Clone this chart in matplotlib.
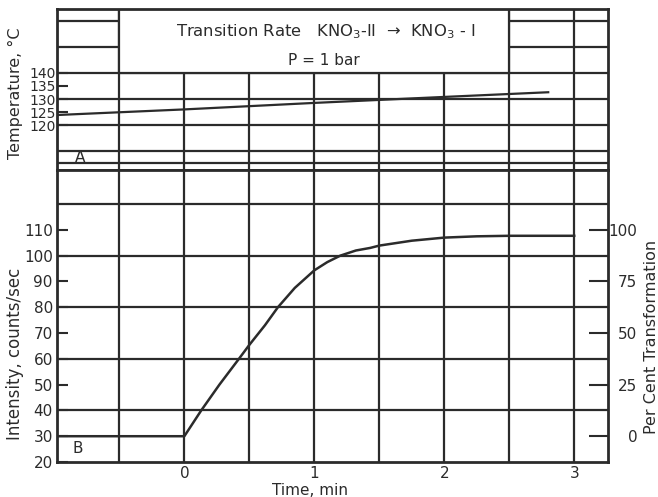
import numpy as np
import matplotlib.pyplot as plt
from matplotlib.patches import Rectangle

# panel A: sample temperature during the run
temp_time = [-1.0, 0.0, 1.0, 2.0, 2.8]
temp_c = [123.8, 126.0, 128.5, 130.8, 132.6]

# panel B: diffracted intensity vs time
int_time = [-1.0, 0.0, 0.13, 0.27, 0.42, 0.5, 0.62, 0.72, 0.85, 1.0, 1.1,
            1.2, 1.32, 1.43, 1.5, 1.75, 2.0, 2.25, 2.5, 3.0]
intensity = [30, 30, 40, 50, 60, 65.4, 73, 80, 87.5, 94.3, 97.5,
             100, 102, 103, 103.9, 105.8, 107, 107.5, 107.7, 107.7]

time_ticks = [0, 1, 2, 3]
temp_ticks = [120, 125, 130, 135, 140]
int_ticks = list(range(20, 120, 10))
pct_ticks = [0, 25, 50, 75, 100]
pct_zero, pct_full = 30, 110   # intensity at 0 % and 100 % transformation

ink = '#2b2b2b'
lw = 1.6

fig = plt.figure(figsize=(6.58, 4.97), dpi=100)
ax_t = fig.add_axes([0.0866, 0.6579, 0.8374, 0.3240])
ax_i = fig.add_axes([0.0866, 0.0704, 0.8374, 0.5875])

xlim = (-0.98, 3.26)
for ax in (ax_t, ax_i):
    ax.set_xlim(*xlim)
    for s in ax.spines.values():
        s.set_linewidth(2)
        s.set_color(ink)
    for x in np.arange(-0.5, 3.01, 0.5):
        ax.axvline(x, color=ink, lw=lw, zorder=0.5)

# top panel
ax_t.set_ylim(102.7, 164.6)
for y in [105.4, 110, 120, 130, 140, 150, 160]:
    ax_t.axhline(y, color=ink, lw=lw, zorder=0.5)
ax_t.add_patch(Rectangle((-0.5, 140), 3.0, 30, facecolor='white',
                         edgecolor=ink, lw=lw, zorder=1))
ax_t.plot(temp_time, temp_c, color=ink, lw=1.6, zorder=2)
ax_t.set_yticks(temp_ticks)
ax_t.tick_params(axis='y', direction='in', length=8, width=1.5, pad=1,
                 labelsize=10, colors=ink)
ax_t.tick_params(axis='x', length=0, labelbottom=False)
ax_t.text(1.09, 156, 'Transition Rate   KNO$_3$-II  →  KNO$_3$ - I',
          ha='center', va='center', fontsize=11.8, color=ink, zorder=3)
ax_t.text(1.07, 144.8, 'P = 1 bar', ha='center', va='center',
          fontsize=11, color=ink, zorder=3)
ax_t.text(-0.8, 107.5, 'A', ha='center', va='center', fontsize=11, color=ink)
ax_t.set_ylabel('Temperature, °C', fontsize=11.5, color=ink, va='center')
ax_t.yaxis.set_label_coords(-0.076, 0.478)

# bottom panel
ylo, yhi = 20, 133.2
ax_i.set_ylim(ylo, yhi)
for y in [40, 60, 80, 100, 120]:
    ax_i.axhline(y, color=ink, lw=lw, zorder=0.5)
ax_i.plot(int_time, intensity, color=ink, lw=1.8, zorder=2)
ax_i.set_yticks(int_ticks)
ax_i.set_xticks(time_ticks)
ax_i.tick_params(axis='y', direction='in', length=8, width=1.5, pad=3,
                 labelsize=11, colors=ink)
ax_i.tick_params(axis='x', length=0, pad=3, labelsize=11, colors=ink)
ax_i.text(-0.82, 25.4, 'B', ha='center', va='center', fontsize=11, color=ink)
ax_i.set_ylabel('Intensity, counts/sec', fontsize=12, color=ink,
                va='center')
ax_i.yaxis.set_label_coords(-0.076, 0.37)
ax_i.set_xlabel('Time, min', fontsize=11, color=ink, va='center')
ax_i.xaxis.set_label_coords(0.46, -0.099)

scale = 100 / (pct_full - pct_zero)
ax_r = ax_i.twinx()
ax_r.set_ylim((ylo - pct_zero) * scale, (yhi - pct_zero) * scale)
ax_r.set_yticks(pct_ticks)
ax_r.tick_params(axis='y', direction='in', length=14, width=1.5, pad=21,
                 labelsize=11, colors=ink)
for lbl in ax_r.get_yticklabels():
    lbl.set_horizontalalignment('right')
for s in ax_r.spines.values():
    s.set_visible(False)
ax_r.set_ylabel('Per Cent Transformation', fontsize=11.5, color=ink,
                rotation=90, va='center')
ax_r.yaxis.set_label_coords(1.079, 0.43)

fig.savefig('out.png', dpi=100)
